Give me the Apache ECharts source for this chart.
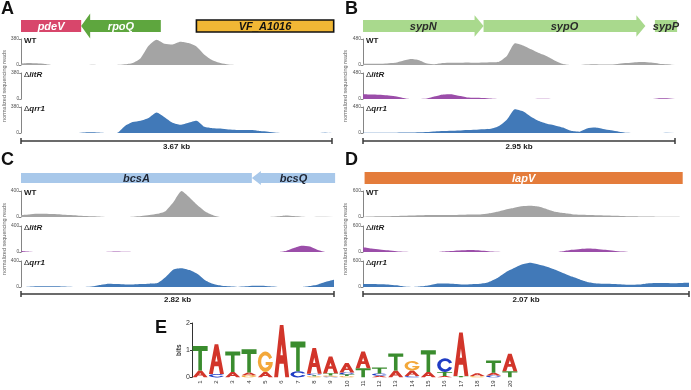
<!DOCTYPE html>
<html>
<head>
<meta charset="utf-8">
<script src="https://cdn.jsdelivr.net/npm/echarts@6/dist/echarts.min.js"></script>
<style>
  html, body { margin: 0; padding: 0; background: #fff; }
  #chart { width: 691px; height: 390px; }
</style>
</head>
<body>
<div id="chart"></div>
<script>
// ---- data ----
const panelNames = ['A', 'B', 'C', 'D'];
const panelKb = [3.67, 2.95, 2.82, 2.07];
const panelYMax = [380, 480, 400, 600];
const strainNames = ['WT', 'litR', 'qrr1'];

// genes (kb from left end of each region); strand 1 = right arrow, -1 = left arrow, 0 = box
const geneNames = [['pdeV', 'rpoQ', 'VF_A1016'], ['sypN', 'sypO', 'sypP'], ['bcsA', 'bcsQ'], ['lapV']];
const geneStart = [[0, 0.71, 2.07], [0, 1.14, 2.76], [0, 2.08], [0.01]];
const geneEnd = [[0.71, 1.65, 3.69], [1.14, 2.67, 2.97], [2.08, 2.83], [2.03]];
const geneStrand = [[0, -1, 0], [1, 1, 0], [0, -1], [0]];

// coverage, 40 evenly spaced bins per region (normalized reads)
const covA_WT = [20, 30, 25, 15, 0, 0, 0, 0, 0, 5, 0, 0, 0, 10, 30, 100, 280, 370, 310, 300, 340, 320, 270, 150, 70, 30, 8, 0, 0, 0, 0, 0, 0, 0, 0, 0, 0, 0, 0, 0];
const covA_litR = [0, 0, 0, 0, 0, 0, 0, 0, 0, 0, 0, 0, 0, 0, 0, 0, 0, 0, 0, 0, 0, 0, 0, 0, 0, 0, 0, 0, 0, 0, 0, 0, 0, 0, 0, 0, 0, 0, 0, 0];
const covA_qrr1 = [0, 0, 0, 0, 0, 0, 0, 0, 8, 10, 5, 0, 0, 100, 160, 180, 220, 300, 230, 150, 120, 150, 180, 90, 70, 65, 50, 45, 45, 45, 30, 20, 5, 0, 0, 0, 0, 0, 5, 10];
const covB_WT = [25, 25, 25, 30, 40, 80, 110, 90, 30, 15, 35, 40, 40, 45, 40, 45, 50, 60, 170, 400, 360, 290, 220, 160, 80, 20, 0, 0, 10, 15, 10, 10, 25, 35, 50, 55, 45, 25, 15, 10];
const covB_litR = [90, 85, 80, 70, 50, 20, 0, 0, 10, 50, 85, 90, 60, 30, 25, 20, 10, 0, 0, 0, 0, 0, 5, 5, 0, 0, 0, 0, 0, 0, 0, 0, 0, 0, 0, 0, 0, 15, 15, 15];
const covB_qrr1 = [5, 5, 5, 5, 5, 8, 10, 15, 20, 30, 35, 40, 45, 55, 60, 70, 80, 130, 250, 440, 400, 300, 220, 170, 140, 100, 40, 25, 85, 100, 75, 50, 25, 5, 0, 0, 0, 0, 5, 5];
const covC_WT = [30, 40, 50, 50, 45, 40, 30, 25, 15, 10, 5, 0, 0, 0, 5, 15, 30, 50, 90, 230, 400, 300, 180, 80, 25, 0, 0, 0, 0, 0, 0, 0, 10, 25, 15, 5, 0, 5, 5, 5];
const covC_litR = [15, 5, 0, 0, 0, 0, 0, 0, 0, 0, 0, 5, 8, 3, 0, 0, 0, 0, 0, 0, 0, 0, 0, 0, 0, 0, 0, 0, 0, 0, 0, 0, 0, 15, 60, 95, 85, 30, 0, 0];
const covC_qrr1 = [0, 5, 10, 10, 10, 8, 5, 0, 0, 10, 35, 50, 45, 40, 40, 45, 50, 60, 150, 270, 290, 260, 200, 100, 45, 20, 10, 0, 10, 20, 20, 10, 0, 0, 0, 0, 15, 40, 80, 110];
const covD_WT = [5, 10, 15, 20, 25, 30, 35, 40, 45, 45, 45, 45, 50, 55, 60, 80, 120, 170, 210, 250, 260, 240, 180, 120, 90, 65, 50, 45, 40, 35, 30, 25, 15, 12, 10, 8, 5, 3, 0, 0];
const covD_litR = [110, 80, 60, 40, 20, 5, 0, 0, 0, 0, 15, 30, 40, 45, 35, 20, 5, 0, 0, 0, 0, 0, 0, 0, 20, 50, 70, 80, 70, 50, 30, 10, 0, 0, 0, 0, 0, 0, 0, 0];
const covD_qrr1 = [70, 70, 65, 60, 40, 10, 0, 15, 40, 80, 80, 70, 60, 65, 75, 110, 200, 330, 430, 520, 560, 520, 470, 400, 320, 240, 170, 110, 80, 75, 70, 60, 50, 55, 80, 90, 90, 85, 95, 100];
const coverage = [
  [covA_WT, covA_litR, covA_qrr1],
  [covB_WT, covB_litR, covB_qrr1],
  [covC_WT, covC_litR, covC_qrr1],
  [covD_WT, covD_litR, covD_qrr1]
];

// sequence logo (bits per letter, positions 1-20)
const logoPos = ['1', '2', '3', '4', '5', '6', '7', '8', '9', '10', '11', '12', '13', '14', '15', '16', '17', '18', '19', '20'];
const bitsA = [0.25, 1.1, 0.2, 0.1, 0.2, 1.93, 0, 0.95, 0.62, 0.35, 0.62, 0.06, 0.25, 0.2, 0.2, 0.05, 1.6, 0.1, 0.1, 0.65];
const bitsC = [0, 0.12, 0, 0, 0, 0, 0.22, 0.05, 0.03, 0.07, 0, 0.08, 0, 0.05, 0, 0.5, 0, 0, 0.07, 0];
const bitsG = [0, 0, 0, 0.08, 0.75, 0, 0, 0.04, 0.04, 0.05, 0, 0, 0, 0.35, 0, 0, 0, 0.05, 0, 0];
const bitsT = [0.9, 0, 0.75, 0.85, 0, 0, 1.1, 0.04, 0.08, 0.06, 0.33, 0.22, 0.63, 0, 0.8, 0.15, 0.05, 0, 0.45, 0.22];

// ---- styling / layout ----
const FONT = '"Liberation Sans", Arial, sans-serif';
const trackColors = ['#a4a4a4', '#9b4ea9', '#4179b8'];
const geneStyle = [
  [{ fill: '#d8466b', text: '#fff' }, { fill: '#5ea63e', text: '#fff' }, { fill: '#f1b735', text: '#111', stroke: '#111' }],
  [{ fill: '#a9d98d', text: '#2a2a2a' }, { fill: '#a9d98d', text: '#2a2a2a' }, { fill: '#a9d98d', text: '#2a2a2a' }],
  [{ fill: '#a8c8ea', text: '#1e2533' }, { fill: '#a8c8ea', text: '#1e2533' }],
  [{ fill: '#e47c3b', text: '#fff' }]
];
const panelLeft = [21, 363, 21, 363];
const panelWidth = [311, 312, 313, 326];
const letterPos = [[1, 0.5], [345, 0.5], [1, 151.5], [345, 151.5]];
const geneTop = [20, 20, 173, 172];
const geneH = [12, 12, 10, 12];
const headScale = [2.1, 1.8, 1.4, 1];
const HEAD = 9;
const trackTop = [[39, 73, 107], [39, 73, 107], [191, 226, 261], [191, 226, 261]];
const TRACK_H = 26;
const scaleY = [140, 140, 293, 293];

const letterColors = { A: '#d2352a', C: '#1f3cc4', G: '#f3a83a', T: '#3a8c2e' };
const letterBits = { A: bitsA, C: bitsC, G: bitsG, T: bitsT };
const glyphs = {
  A: 'M38,0 H62 L100,100 H74 L64,74 H36 L26,100 H0 Z M50,37 L42,58 H58 Z',
  C: 'M92,30 A46,50 0 1 0 92,70 L74,62 A26,30 0 1 1 74,38 Z',
  G: 'M92,30 A46,50 0 1 0 96,52 H52 V66 H72 A26,30 0 1 1 74,38 Z',
  T: 'M0,0 H100 V20 H62 V100 H38 V20 H0 Z'
};

const chart = echarts.init(document.getElementById('chart'));

const grid = [], xAxis = [], yAxis = [], series = [], graphic = [];

function addGrid(g, xa, ya) {
  grid.push(g);
  xa.gridIndex = grid.length - 1;
  ya.gridIndex = grid.length - 1;
  xAxis.push(xa);
  yAxis.push(ya);
  return grid.length - 1;
}

panelNames.forEach((name, p) => {
  const kb = panelKb[p];
  const left = panelLeft[p], width = panelWidth[p];

  // gene track
  let gi = addGrid({ left, top: geneTop[p], width, height: geneH[p] },
    { type: 'value', min: 0, max: kb, show: false },
    { type: 'value', min: 0, max: 1, show: false });
  series.push({
    type: 'custom', xAxisIndex: gi, yAxisIndex: gi, silent: true, clip: false,
    data: geneNames[p].map((n, i) => [geneStart[p][i], geneEnd[p][i]]),
    renderItem(params, api) {
      const i = params.dataIndex;
      const s = api.coord([api.value(0), 1]);
      const e = api.coord([api.value(1), 0]);
      const x0 = s[0], x1 = e[0], yt = s[1], yb = e[1];
      const ym = (yt + yb) / 2, ext = (yb - yt) * (headScale[p] - 1) / 2;
      let pts;
      if (geneStrand[p][i] === 1) {
        const xh = x1 - HEAD;
        pts = [[x0, yt], [xh, yt], [xh, yt - ext], [x1, ym], [xh, yb + ext], [xh, yb], [x0, yb]];
      } else if (geneStrand[p][i] === -1) {
        const xh = x0 + HEAD;
        pts = [[x1, yt], [xh, yt], [xh, yt - ext], [x0, ym], [xh, yb + ext], [xh, yb], [x1, yb]];
      } else {
        pts = [[x0, yt], [x1, yt], [x1, yb], [x0, yb]];
      }
      const st = geneStyle[p][i];
      return {
        type: 'group', children: [
          { type: 'polygon', shape: { points: pts }, style: { fill: st.fill, stroke: st.stroke || null, lineWidth: st.stroke ? 1.6 : 0 } },
          { type: 'text', x: (x0 + x1) / 2, y: ym + 0.5, style: { text: geneNames[p][i], fill: st.text, font: 'italic bold 11px ' + FONT, align: 'center', verticalAlign: 'middle' } }
        ]
      };
    }
  });

  // coverage tracks
  strainNames.forEach((strain, t) => {
    const ymax = panelYMax[p];
    const ti = addGrid({ left, top: trackTop[p][t], width, height: TRACK_H },
      { type: 'value', min: 0, max: kb, show: false },
      {
        type: 'value', min: 0, max: ymax, interval: ymax,
        axisLine: { show: true, lineStyle: { color: '#666', width: 0.8 } },
        axisTick: { show: true, length: 2, lineStyle: { color: '#666', width: 0.8 } },
        axisLabel: { fontSize: 5, color: '#555', margin: 2, fontFamily: FONT },
        splitLine: { show: false },
        name: t === 1 ? 'normalized sequencing reads' : '',
        nameLocation: 'middle', nameGap: 11, nameRotate: 90,
        nameTextStyle: { fontSize: 5.5, color: '#666', fontFamily: FONT }
      });
    const cov = coverage[p][t];
    series.push({
      type: 'line', xAxisIndex: ti, yAxisIndex: ti, silent: true,
      symbol: 'none', smooth: 0.2,
      lineStyle: { width: 0 },
      areaStyle: { color: trackColors[t], opacity: 1 },
      data: cov.map((v, i) => [kb * i / (cov.length - 1), v])
    });
    const label = t === 0
      ? { text: '{n|WT}' }
      : { text: '{d|\u0394}{i|' + strain + '}' };
    graphic.push({
      type: 'text', left: left + 3, top: trackTop[p][t] - 2, silent: true,
      style: {
        text: label.text,
        rich: {
          n: { fontSize: 8, fontWeight: 'bold', fontFamily: FONT, fill: '#1a1a1a' },
          d: { fontSize: 8, fontFamily: FONT, fill: '#1a1a1a' },
          i: { fontSize: 8, fontWeight: 'bold', fontStyle: 'italic', fontFamily: FONT, fill: '#1a1a1a' }
        }
      }
    });
  });

  // scale bar
  const si = addGrid({ left, top: scaleY[p], width, height: 1 },
    { type: 'value', min: 0, max: kb, show: false },
    { type: 'value', min: 0, max: 1, show: false });
  series.push({
    type: 'custom', xAxisIndex: si, yAxisIndex: si, silent: true, clip: false,
    data: [[0, kb]],
    renderItem(params, api) {
      const a = api.coord([api.value(0), 0]);
      const b = api.coord([api.value(1), 0]);
      const ls = { stroke: '#3a3a3a', lineWidth: 1.5 };
      return {
        type: 'group', children: [
          { type: 'line', shape: { x1: a[0], y1: a[1], x2: b[0], y2: b[1] }, style: ls },
          { type: 'line', shape: { x1: a[0], y1: a[1] - 3, x2: a[0], y2: a[1] + 3 }, style: ls },
          { type: 'line', shape: { x1: b[0], y1: b[1] - 3, x2: b[0], y2: b[1] + 3 }, style: ls },
          { type: 'text', x: (a[0] + b[0]) / 2, y: a[1] + 2, style: { text: kb.toFixed(2) + ' kb', font: 'bold 8px ' + FONT, fill: '#222', align: 'center', verticalAlign: 'top' } }
        ]
      };
    }
  });

  graphic.push({
    type: 'text', left: letterPos[p][0], top: letterPos[p][1], silent: true,
    style: { text: name, font: 'bold 18px ' + FONT, fill: '#111' }
  });
});

// sequence logo
const li = addGrid({ left: 192, top: 323, width: 326, height: 57 },
  {
    type: 'category', data: logoPos, boundaryGap: true,
    axisLine: { show: false }, axisTick: { show: false },
    axisLabel: { rotate: 90, fontSize: 6, color: '#333', margin: 3, fontFamily: FONT, interval: 0 }
  },
  {
    type: 'value', min: 0, max: 2, interval: 1,
    axisLine: { show: true, lineStyle: { color: '#333', width: 1 } },
    axisTick: { show: true, length: 2, lineStyle: { color: '#333' } },
    axisLabel: { fontSize: 7, color: '#333', margin: 2, fontFamily: FONT },
    splitLine: { show: false },
    name: 'bits', nameLocation: 'middle', nameGap: 9, nameRotate: 90,
    nameTextStyle: { fontSize: 6.5, color: '#333', fontWeight: 'bold', fontFamily: FONT }
  });
series.push({
  type: 'custom', xAxisIndex: li, yAxisIndex: li, silent: true, clip: false,
  data: logoPos.map((p, i) => [i]),
  renderItem(params, api) {
    const i = params.dataIndex;
    const stack = ['A', 'C', 'G', 'T']
      .map(l => ({ l, h: letterBits[l][i] }))
      .filter(d => d.h > 0)
      .sort((a, b) => a.h - b.h);
    const bw = api.size([1, 0])[0] * 0.92;
    const cx = api.coord([i, 0])[0];
    let acc = 0;
    const children = stack.map(d => {
      const top = api.coord([i, acc + d.h])[1];
      const bot = api.coord([i, acc])[1];
      acc += d.h;
      return {
        type: 'path',
        shape: { pathData: glyphs[d.l], x: cx - bw / 2, y: top, width: bw, height: Math.max(bot - top, 0.3), layout: 'cover' },
        style: { fill: letterColors[d.l] }
      };
    });
    return { type: 'group', children };
  }
});
graphic.push({
  type: 'text', left: 155, top: 319.5, silent: true,
  style: { text: 'E', font: 'bold 18px ' + FONT, fill: '#111' }
});

chart.setOption({
  animation: false,
  backgroundColor: '#fff',
  grid, xAxis, yAxis, series, graphic
});
</script>
</body>
</html>
